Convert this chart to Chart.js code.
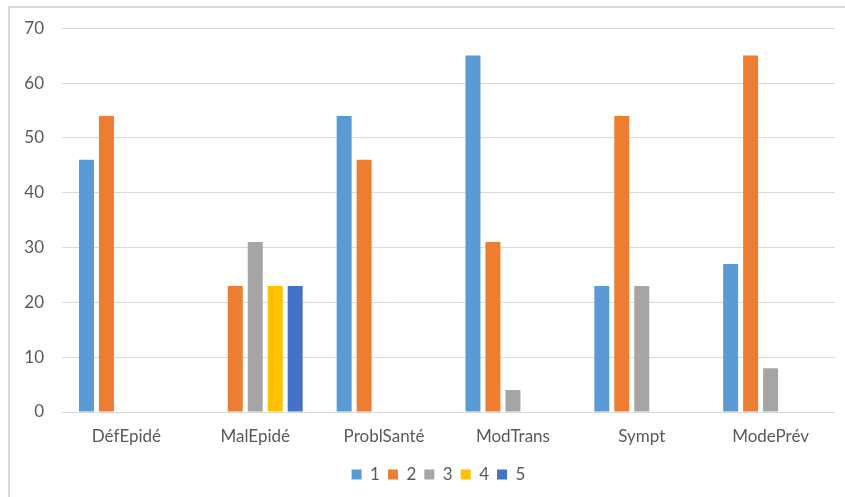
<!DOCTYPE html>
<html>
<head>
<meta charset="utf-8">
<script src="https://cdn.jsdelivr.net/npm/chart.js@4"></script>
<style>
  html, body { margin: 0; padding: 0; background: #ffffff; overflow: hidden; }
  #wrap { position: relative; width: 845px; height: 497px; }
  #frame { position: absolute; left: 8px; top: 6px; width: 900px; height: 600px;
           border: 2px solid #d9d9d9; box-sizing: border-box; pointer-events: none; }
  canvas { position: absolute; left: 0; top: 0; }
</style>
</head>
<body>
<div id="wrap">
  <div id="frame"></div>
  <canvas id="chart" width="845" height="497"></canvas>
</div>
<script>
// Themes per category
const categories = ['DéfEpidé', 'MalEpidé', 'ProblSanté', 'ModTrans', 'Sympt', 'ModePrév'];

// Answer-level series (1 to 5)
const seriesNames = ['1', '2', '3', '4', '5'];
const level1 = [46, 0, 54, 65, 23, 27];
const level2 = [54, 23, 46, 31, 54, 65];
const level3 = [0, 31, 0, 4, 23, 8];
const level4 = [0, 23, 0, 0, 0, 0];
const level5 = [0, 23, 0, 0, 0, 0];

const colors = ['#5B9BD5', '#ED7D31', '#A5A5A5', '#FFC000', '#4472C4'];
const seriesValues = [level1, level2, level3, level4, level5];

const FONT = 'Lato, "Open Sans", sans-serif';
const TEXT = '#595959';

// Nudge the legend a little to the right of the canvas centre
const legendShift = {
  id: 'legendShift',
  afterLayout(chart) {
    const lg = chart.legend;
    if (lg) { lg.left += 21; lg.right += 21; }
  }
};

new Chart(document.getElementById('chart'), {
  type: 'bar',
  data: {
    labels: categories,
    datasets: seriesValues.map((vals, i) => ({
      label: seriesNames[i],
      data: vals,
      backgroundColor: colors[i],
      borderWidth: 0,
      barPercentage: 0.75,
      categoryPercentage: 0.775
    }))
  },
  options: {
    responsive: false,
    animation: false,
    devicePixelRatio: 1,
    layout: { padding: { left: 0, right: 10, top: 21, bottom: 4 } },
    plugins: {
      tooltip: { enabled: false },
      legend: {
        position: 'bottom',
        labels: {
          boxWidth: 10, boxHeight: 10, padding: 8,
          color: TEXT, font: { family: FONT, size: 17 }
        }
      }
    },
    scales: {
      x: {
        grid: { display: false, drawTicks: false },
        border: { display: false },
        ticks: { color: TEXT, font: { family: FONT, size: 17 }, padding: 14 },
        afterFit: (scale) => { scale.height = 46; }
      },
      y: {
        min: 0, max: 70,
        ticks: { stepSize: 10, color: TEXT, font: { family: FONT, size: 17 }, padding: 18 },
        grid: { color: '#d9d9d9', lineWidth: 1, drawTicks: false },
        border: { display: false },
        afterFit: (scale) => { scale.width = 62; }
      }
    }
  },
  plugins: [legendShift]
});
</script>
</body>
</html>
